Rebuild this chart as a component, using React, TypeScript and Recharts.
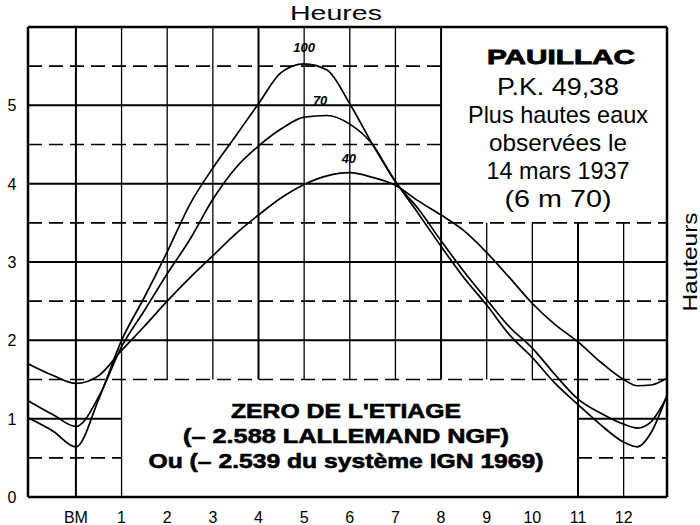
import React from "react"
import { LineChart, Line, XAxis, YAxis, ReferenceLine, ReferenceDot } from "recharts"

// heures rapportées à la basse mer (BM = 0)
const hours = [-1.05, -0.5, 0, 0.5, 1, 1.5, 2, 2.5, 3, 3.5, 4, 4.5, 5, 5.5, 6, 6.5, 7, 7.5, 8, 8.5, 9, 9.5, 10, 10.5, 11, 11.5, 12, 12.3, 12.6, 12.95]

// hauteurs (m) pour les coefficients 100, 70 et 40
const coef100 = [1.01, 0.84, 0.64, 1.25, 2.0, 2.55, 3.13, 3.74, 4.2, 4.61, 5.02, 5.42, 5.53, 5.45, 5.02, 4.5, 4.03, 3.62, 3.2, 2.8, 2.45, 2.07, 1.78, 1.45, 1.18, 0.92, 0.7, 0.64, 0.82, 1.3]
const coef70 = [1.23, 1.05, 0.9, 1.28, 1.92, 2.38, 2.85, 3.29, 3.8, 4.2, 4.48, 4.7, 4.85, 4.87, 4.76, 4.5, 4.02, 3.68, 3.27, 2.88, 2.52, 2.17, 1.9, 1.56, 1.25, 1.07, 0.93, 0.88, 0.96, 1.28]
const coef40 = [1.7, 1.55, 1.45, 1.55, 1.87, 2.18, 2.5, 2.8, 3.08, 3.36, 3.6, 3.82, 3.99, 4.1, 4.14, 4.08, 3.98, 3.78, 3.6, 3.4, 3.12, 2.8, 2.47, 2.2, 1.98, 1.72, 1.5, 1.42, 1.43, 1.52]

const hourTicks = [0, 1, 2, 3, 4, 5, 6, 7, 8, 9, 10, 11, 12]
const hourLabels = ["BM", "1", "2", "3", "4", "5", "6", "7", "8", "9", "10", "11", "12"]
const heightTicks = [0, 1, 2, 3, 4, 5]
const gridLevels = [0.5, 1, 1.5, 2, 2.5, 3, 3.5, 4, 4.5, 5, 5.5]

const curveLabels = [
  { text: "100", hour: 5.0, value: 5.68 },
  { text: "70", hour: 5.35, value: 5.0 },
  { text: "40", hour: 5.98, value: 4.27 },
]

const infoLines = ["P.K. 49,38", "Plus hautes eaux", "observées le", "14 mars 1937", "(6 m 70)"]
const zeroLines = ["ZERO DE L'ETIAGE", "(– 2.588 LALLEMAND NGF)", "Ou (– 2.539 du système IGN 1969)"]

// text widths measured on the scan
const infoWidths = [122, 180, 138, 143, 107]
const zeroWidths = [230, 326, 395]

const X_MIN = -1.05
const X_MAX = 12.95
const FONT = "'Liberation Sans', Arial, Helvetica, sans-serif"

const data = hours.map((h, i) => ({ hour: h, c100: coef100[i], c70: coef70[i], c40: coef40[i] }))

// the grid is cut by the two white boxes
function verticalSpan(h: number): [number, number] {
  if (h <= 1) return [0, 6]
  if (h <= 8) return [1.5, 6]
  if (h <= 10) return [1.5, 3.5]
  return [0, 3.5]
}

function horizontalSpans(level: number): [number, number][] {
  if (level < 1.5) return [[X_MIN, 1], [11, X_MAX]]
  if (level <= 3.5) return [[X_MIN, X_MAX]]
  return [[X_MIN, 8]]
}

function HourTick(props: any) {
  const { x, y, payload } = props
  const idx = hourTicks.indexOf(payload.value)
  return (
    <text x={x} y={y + 18} textAnchor="middle" fontFamily={FONT} fontSize={16} fill="#000">
      {hourLabels[idx]}
    </text>
  )
}

function HeightTick(props: any) {
  const { y, payload } = props
  return (
    <text x={12} y={y + 6} textAnchor="middle" fontFamily={FONT} fontSize={16} fill="#000">
      {payload.value}
    </text>
  )
}

export default function App() {
  return (
    <div style={{ position: "absolute", left: 0, top: 0, width: 700, height: 525, background: "#fff" }}>
      <LineChart width={700} height={525} data={data} margin={{ top: 27, right: 33, bottom: 0, left: 0 }}>
        <XAxis
          type="number"
          dataKey="hour"
          domain={[X_MIN, X_MAX]}
          ticks={hourTicks}
          axisLine={false}
          tickLine={false}
          height={28}
          tick={<HourTick />}
          allowDataOverflow
        />
        <YAxis
          type="number"
          domain={[0, 6]}
          ticks={heightTicks}
          axisLine={false}
          tickLine={false}
          width={28}
          tick={<HeightTick />}
          allowDataOverflow
        />
        {gridLevels.map((lv) =>
          horizontalSpans(lv).map(([a, b], j) => (
            <ReferenceLine
              key={`h-${lv}-${j}`}
              segment={[{ x: a, y: lv }, { x: b, y: lv }]}
              stroke="#000"
              strokeWidth={Number.isInteger(lv) ? 2 : 1.6}
              strokeDasharray={Number.isInteger(lv) ? undefined : "14 7"}
            />
          )),
        )}
        {hourTicks.map((h) => {
          const [y0, y1] = verticalSpan(h)
          const thick = h === 0 || h === 4 || h === 8 || h === 11
          return (
            <ReferenceLine
              key={`v-${h}`}
              segment={[{ x: h, y: y0 }, { x: h, y: y1 }]}
              stroke="#000"
              strokeWidth={thick ? 2 : 1.3}
            />
          )
        })}
        <ReferenceLine x={X_MIN} stroke="#000" strokeWidth={2.5} />
        <ReferenceLine x={X_MAX} stroke="#000" strokeWidth={2.5} />
        <ReferenceLine y={0} stroke="#000" strokeWidth={2.5} />
        <ReferenceLine y={6} stroke="#000" strokeWidth={2.5} />
        <Line type="monotone" dataKey="c100" stroke="#000" strokeWidth={1.7} dot={false} isAnimationActive={false} />
        <Line type="monotone" dataKey="c70" stroke="#000" strokeWidth={1.7} dot={false} isAnimationActive={false} />
        <Line type="monotone" dataKey="c40" stroke="#000" strokeWidth={1.7} dot={false} isAnimationActive={false} />
        {curveLabels.map((c) => (
          <ReferenceDot
            key={c.text}
            x={c.hour}
            y={c.value}
            r={0}
            shape={(p: any) => (
              <text
                x={p.cx}
                y={p.cy}
                textAnchor="middle"
                fontFamily={FONT}
                fontSize={13}
                fontStyle="italic"
                fontWeight="bold"
                fill="#000"
              >
                {c.text}
              </text>
            )}
          />
        ))}
      </LineChart>
      <svg
        width={700}
        height={525}
        style={{ position: "absolute", left: 0, top: 0, pointerEvents: "none" }}
      >
        <text x={336} y={20} textAnchor="middle" fontFamily={FONT} fontSize={21} textLength={92} lengthAdjust="spacingAndGlyphs" fill="#000">
          Heures
        </text>
        <text
          x={697}
          y={262}
          transform="rotate(-90 697 262)"
          textAnchor="middle"
          fontFamily={FONT}
          fontSize={21}
          textLength={99}
          lengthAdjust="spacingAndGlyphs"
          fill="#000"
        >
          Hauteurs
        </text>
        <text
          x={561}
          y={64}
          textAnchor="middle"
          fontFamily={FONT}
          fontSize={20}
          fontWeight={900}
          stroke="#000"
          strokeWidth={0.8}
          textLength={148}
          lengthAdjust="spacingAndGlyphs"
          fill="#000"
        >
          PAUILLAC
        </text>
        {infoLines.map((t, i) => (
          <text
            key={t}
            x={558}
            y={95 + i * 28}
            textAnchor="middle"
            fontFamily={FONT}
            fontSize={24}
            textLength={infoWidths[i]}
            lengthAdjust="spacingAndGlyphs"
            fill="#000"
          >
            {t}
          </text>
        ))}
        {zeroLines.map((t, i) => (
          <text
            key={t}
            x={346}
            y={418 + i * 25}
            textAnchor="middle"
            fontFamily={FONT}
            fontSize={20}
            fontWeight="bold"
            stroke="#000"
            strokeWidth={0.6}
            textLength={zeroWidths[i]}
            lengthAdjust="spacingAndGlyphs"
            fill="#000"
          >
            {t}
          </text>
        ))}
      </svg>
    </div>
  )
}
